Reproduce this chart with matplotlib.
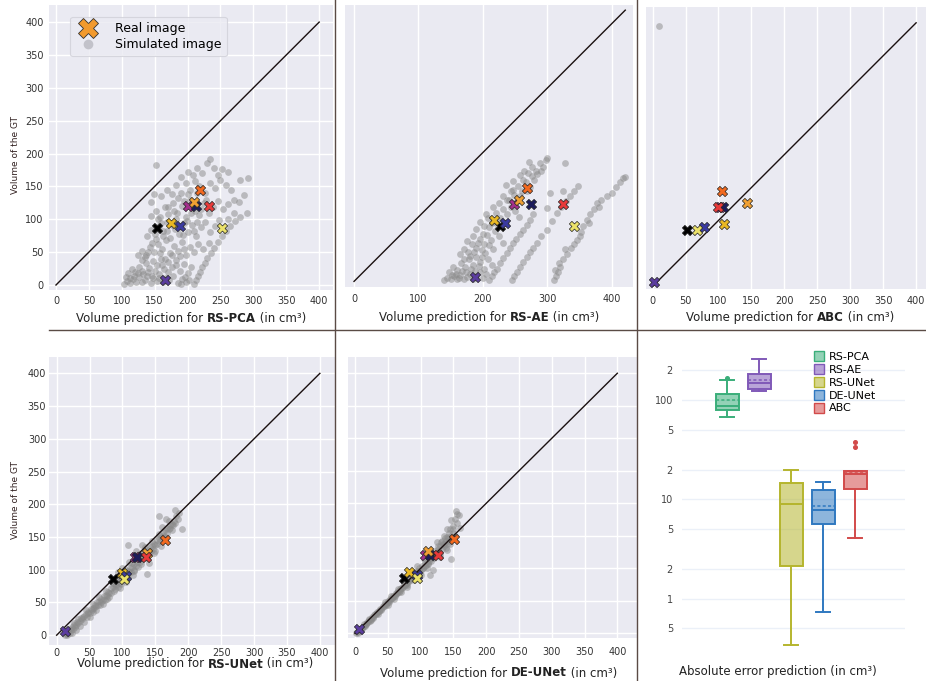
import matplotlib
matplotlib.use("Agg")
import matplotlib.pyplot as plt
from matplotlib.lines import Line2D
from matplotlib.offsetbox import TextArea, HPacker, AnchoredOffsetbox
import numpy as np

W, H = 926, 681

# ---------------------------------------------------------------- real images
real_colors = ['#000000', '#e9b824', '#3b3ba0', '#5b3d9e', '#a3308c',
               '#1c1c5c', '#f0a033', '#f2691f', '#e83a3a', '#ece26a']
gt_real = [86, 95, 90, 7, 120, 120, 126, 145, 120, 86]
pred_rs_pca = [153, 175, 189, 166, 201, 213, 209, 219, 232, 252]
pred_rs_ae = [226, 218, 235, 188, 248, 274, 256, 269, 324, 342]
pred_abc = [52, 108, 78, 2, 103, 107, 144, 106, 100, 68]
pred_rs_unet = [86, 100, 105, 13, 119, 122, 138, 165, 136, 102]
pred_de_unet = [75, 83, 94, 6, 106, 114, 111, 151, 127, 94]

# ---------------------------------------------------------------- simulated images (pred, gt)
sim_rs_pca = [
    (103, 2), (108, 6), (112, 3), (117, 9), (121, 4), (126, 12), (130, 5), (135, 8), (139, 14), (144, 3),
    (148, 10), (153, 6), (157, 16), (162, 4), (167, 11), (172, 7), (178, 13), (185, 3), (192, 9), (198, 5),
    (210, 2), (213, 8), (216, 14), (219, 20), (222, 27), (226, 34), (230, 41), (235, 49), (240, 57), (246, 65),
    (252, 74), (258, 82), (265, 90), (272, 97), (280, 103), (290, 109), (270, 110), (262, 100),
    (110, 18), (115, 24), (120, 20), (126, 28), (131, 22), (137, 33), (142, 26), (148, 37), (153, 30), (159, 40),
    (164, 24), (170, 35), (176, 28), (182, 38), (188, 22), (194, 32), (200, 18), (205, 28),
    (125, 45), (131, 52), (137, 46), (143, 58), (149, 50), (155, 63), (161, 55), (167, 68), (173, 48), (179, 60),
    (185, 52), (191, 66), (197, 45), (203, 58), (210, 50), (216, 62), (224, 55), (232, 64),
    (138, 75), (144, 83), (150, 78), (156, 90), (162, 82), (168, 96), (174, 72), (181, 85), (187, 78), (194, 94),
    (200, 80), (207, 92), (213, 74), (220, 88), (227, 96), (234, 80), (241, 90), (248, 99),
    (145, 105), (152, 112), (158, 104), (165, 118), (171, 108), (178, 125), (184, 110), (191, 120), (197, 103),
    (204, 130), (211, 112), (218, 106), (225, 125), (232, 110), (239, 118), (246, 128), (254, 115), (262, 124),
    (270, 130), (278, 126), (286, 137),
    (149, 139), (145, 127), (160, 135), (168, 145), (176, 138), (183, 152), (190, 140), (197, 155), (204, 145),
    (211, 158), (218, 150), (226, 140), (234, 155), (242, 148), (250, 160), (258, 152), (266, 145), (279, 159),
    (292, 163),
    (152, 182), (190, 165), (200, 172), (208, 168), (215, 178), (222, 170), (229, 185), (234, 192), (240, 178),
    (246, 168), (252, 176), (261, 172),
    (106, 12), (113, 10), (119, 14), (124, 18), (133, 16), (140, 20), (146, 14), (151, 22), (156, 10), (161, 30),
    (166, 40), (171, 20), (177, 45), (183, 30), (189, 44), (195, 55), (130, 38), (135, 42), (140, 50), (146, 64),
    (152, 70), (158, 48), (163, 74), (169, 82), (176, 92), (182, 100), (188, 88), (193, 76), (199, 98),
    (205, 110), (210, 82), (215, 96), (160, 95), (155, 100), (170, 118), (186, 132), (180, 112), (195, 128),
    (200, 138), (208, 122), (214, 140), (221, 116), (228, 130), (190, 2), (196, 12), (202, 8),
]
sim_rs_ae = [
    (140, 2), (145, 5), (150, 3), (155, 8), (160, 4), (165, 10), (170, 3), (175, 7), (180, 12), (185, 4),
    (190, 9), (195, 14), (200, 5), (205, 11),
    (148, 15), (154, 22), (160, 18), (166, 28), (172, 22), (178, 34), (184, 26), (190, 38), (196, 30), (202, 20),
    (208, 34), (214, 26),
    (165, 42), (171, 50), (177, 46), (183, 58), (189, 52), (195, 66), (201, 58), (207, 72), (213, 64), (219, 78),
    (225, 70), (231, 60), (175, 62), (185, 70),
    (190, 82), (196, 92), (202, 86), (208, 98), (214, 90), (220, 106), (226, 98), (232, 112), (238, 104),
    (244, 116), (250, 110), (256, 100), (205, 105), (215, 115),
    (225, 122), (231, 132), (237, 126), (243, 140), (249, 134), (255, 148), (261, 140), (267, 154), (273, 146),
    (279, 158), (236, 150), (246, 156),
    (258, 165), (264, 172), (270, 168), (276, 178), (282, 172), (288, 184), (294, 178), (298, 188), (300, 192),
    (272, 185),
    (210, 2), (214, 8), (218, 14), (222, 20), (227, 28), (232, 36), (237, 44), (242, 52), (247, 60), (252, 66),
    (257, 74), (263, 80), (268, 88), (273, 96), (278, 104), (299, 114), (304, 137), (325, 140), (328, 184),
    (245, 2), (249, 8), (253, 14), (258, 22), (263, 30), (268, 38), (273, 46), (278, 52), (284, 60), (290, 70),
    (299, 80), (307, 94), (315, 106), (322, 115), (329, 125), (335, 132), (341, 140), (348, 148),
    (310, 2), (313, 8), (316, 14), (320, 22), (325, 34), (330, 42), (336, 52), (341, 58), (346, 65), (352, 76),
    (356, 86), (361, 96), (366, 104), (372, 112), (377, 122), (384, 126), (392, 132), (400, 137), (406, 146),
    (413, 155), (418, 160), (421, 162), (312, 18), (318, 28), (328, 50), (350, 70), (365, 90), (380, 116),
    (152, 10), (158, 12), (163, 6), (168, 16), (174, 14), (182, 20), (188, 16), (194, 24), (199, 38), (186, 46),
    (192, 60), (198, 48), (204, 44), (210, 56), (216, 50), (180, 40), (170, 34), (200, 74), (210, 84), (218, 92),
    (224, 84), (230, 94), (236, 90), (240, 126), (246, 142), (252, 124), (258, 132), (262, 158), (268, 140),
    (276, 164), (284, 166), (290, 172),
]
sim_abc = [(9, 395)]
sim_rs_unet = [
    (12, 0), (15, 2), (18, 4), (20, 3), (22, 8), (25, 10), (28, 12), (30, 15), (33, 18), (35, 22), (38, 24),
    (40, 28), (20, 10), (26, 16), (32, 24), (16, 0), (24, 4), (30, 8), (36, 14), (42, 20),
    (44, 32), (46, 28), (48, 36), (50, 34), (52, 40), (55, 42), (58, 46), (60, 44), (62, 50), (65, 52), (68, 56),
    (70, 54), (72, 60), (75, 62), (78, 66), (80, 64), (45, 38), (55, 48), (65, 58), (75, 68), (50, 28), (60, 38),
    (70, 48), (80, 58), (56, 36), (66, 46), (76, 56),
    (82, 72), (85, 74), (88, 78), (90, 76), (92, 82), (95, 84), (98, 88), (100, 86), (102, 92), (105, 94),
    (108, 98), (110, 96), (112, 102), (115, 104), (118, 108), (120, 106), (85, 80), (95, 90), (105, 100),
    (115, 110), (88, 70), (98, 78), (108, 88), (118, 98), (94, 96), (100, 102), (110, 112), (96, 72), (106, 82),
    (116, 92),
    (122, 112), (125, 116), (128, 120), (130, 118), (132, 124), (135, 128), (138, 130), (140, 126), (142, 134),
    (145, 136), (148, 140), (150, 138), (152, 146), (155, 148), (158, 152), (160, 150), (125, 124), (135, 134),
    (145, 144), (155, 154), (128, 108), (138, 118), (148, 126), (158, 136), (109, 138), (137, 94), (120, 128),
    (130, 138), (140, 110), (150, 128),
    (162, 158), (165, 160), (168, 164), (170, 162), (172, 168), (175, 170), (178, 174), (180, 172), (156, 182),
    (166, 177), (180, 191), (190, 162), (165, 150), (175, 160), (185, 178), (170, 175), (160, 165),
    (14, 4), (18, 8), (23, 12), (27, 18), (31, 20), (37, 26), (42, 30), (47, 34), (53, 38), (57, 42), (63, 46),
    (67, 50), (73, 54), (77, 60), (83, 64), (87, 68), (93, 74), (97, 80), (103, 84), (107, 90), (113, 96),
    (117, 100), (123, 104), (127, 112), (133, 118), (137, 122), (143, 128), (147, 132), (153, 140), (157, 144),
    (163, 152), (167, 156), (173, 164), (177, 168), (182, 182), (186, 186),
]
sim_de_unet = [
    (2, 0), (4, 3), (6, 5), (8, 6), (10, 9), (12, 10), (14, 14), (16, 15), (18, 17), (20, 18), (22, 22),
    (24, 22), (26, 25), (28, 26), (30, 30), (32, 30), (34, 33), (36, 34), (38, 37), (40, 38), (5, 1), (15, 11),
    (25, 20), (35, 30),
    (42, 42), (44, 42), (46, 45), (48, 46), (50, 50), (52, 49), (54, 53), (56, 54), (58, 58), (60, 57), (62, 62),
    (64, 62), (66, 65), (68, 66), (70, 70), (72, 70), (74, 74), (76, 75), (78, 78), (80, 78), (45, 48), (55, 58),
    (65, 68), (75, 79), (50, 44), (60, 53), (70, 63), (80, 72),
    (82, 84), (84, 82), (86, 88), (88, 86), (90, 92), (92, 90), (94, 96), (96, 94), (98, 100), (100, 97),
    (102, 104), (104, 101), (106, 108), (108, 105), (110, 112), (112, 108), (114, 116), (116, 112), (118, 120),
    (120, 116), (85, 92), (95, 104), (105, 114), (115, 124), (90, 82), (100, 90), (110, 100), (114, 90),
    (119, 97), (108, 122),
    (122, 126), (124, 122), (126, 130), (128, 126), (130, 134), (132, 130), (134, 138), (136, 134), (138, 142),
    (140, 138), (142, 146), (144, 142), (146, 150), (148, 146), (150, 154), (152, 150), (135, 138), (147, 115),
    (125, 140), (135, 150), (145, 160), (155, 170), (130, 118), (140, 128), (147, 174), (154, 188), (158, 182),
    (150, 165), (160, 162), (140, 160),
    (3, 2), (7, 4), (11, 8), (13, 12), (17, 14), (21, 20), (23, 19), (27, 23), (29, 28), (33, 31), (37, 35),
    (39, 36), (43, 40), (47, 44), (51, 48), (53, 51), (57, 55), (61, 58), (63, 60), (67, 64), (69, 68), (73, 71),
    (77, 76), (79, 75), (83, 80), (87, 84), (89, 90), (93, 88), (97, 96), (99, 93), (103, 100), (107, 104),
    (111, 106), (113, 112), (117, 116), (121, 120), (127, 134), (133, 142), (137, 146), (143, 154), (149, 160),
    (153, 176), (156, 184), (141, 148), (131, 140), (129, 122), (139, 132), (145, 138),
]

# ---------------------------------------------------------------- absolute error boxes
box_names = ['RS-PCA', 'RS-AE', 'RS-UNet', 'DE-UNet', 'ABC']
box_colors = ['#3aae7a', '#8059b8', '#b5b52e', '#2f78c0', '#d24a4a']
box_q1 = [79, 129, 2.15, 5.6, 12.6]
box_med = [87, 148, 8.9, 7.9, 17.9]
box_q3 = [115, 183, 14.5, 12.3, 19.2]
box_mean = [101, 159, 9.0, 8.5, 18.4]
box_lo = [67, 123, 0.34, 0.74, 4.1]
box_hi = [159, 259, 19.6, 14.8, 19.2]
box_fliers = [[167], [], [], [], [37.6, 33.5]]

# ---------------------------------------------------------------- style
plt.rcParams['font.family'] = 'DejaVu Sans'
fig = plt.figure(figsize=(W / 100, H / 100), dpi=100)
fig.patch.set_facecolor('white')


def px_axes(l, t, r, b):
    return fig.add_axes([l / W, 1 - b / H, (r - l) / W, (b - t) / H])


def scatter_panel(rect, xlim, ylim, sim, preds, xticks, ygrid, ylabels, xpad, diag_end=400):
    ax = px_axes(*rect)
    ax.set_facecolor('#eaeaf2')
    for s in ax.spines.values():
        s.set_visible(False)
    ax.set_axisbelow(True)
    ax.set_xticks(xticks)
    ax.set_yticks(np.arange(0, 401, 50))
    ax.grid(True, axis='x', color='white', lw=1)
    if ygrid:
        ax.grid(True, axis='y', color='white', lw=1)
    ax.tick_params(length=0, labelsize=7, labelcolor='#333333', pad=xpad)
    if not ylabels:
        ax.tick_params(axis='y', labelleft=False)
    sx = [p[0] for p in sim]
    sy = [p[1] for p in sim]
    ax.scatter(sx, sy, s=24, color='#8a8a8a', alpha=0.5, lw=0)
    ax.plot([0, diag_end], [0, diag_end], color='#1a1010', lw=1)
    for x, y, c in zip(preds, gt_real, real_colors):
        ax.scatter([x], [y], marker='X', s=55, color=c, edgecolor='#222222', lw=0.5, zorder=3)
    ax.set_xlim(*xlim)
    ax.set_ylim(*ylim)
    return ax


def fig_label(xp, yp, parts, size=8.5):
    boxes = [TextArea(t, textprops=dict(size=size, weight=w, color='#222222')) for t, w in parts]
    pack = HPacker(children=boxes, align='baseline', pad=0, sep=0)
    ab = AnchoredOffsetbox(loc='center', child=pack, pad=0, borderpad=0, frameon=False,
                           bbox_to_anchor=(xp / W, 1 - yp / H), bbox_transform=fig.transFigure)
    fig.add_artist(ab)


ticks50 = np.arange(0, 401, 50)
ax1 = scatter_panel((49, 5, 333, 290), (-10.6, 421), (-7.6, 426), sim_rs_pca, pred_rs_pca, ticks50, True, True, 4)
ax2 = scatter_panel((345, 5, 633, 287), (-14, 433), (-8.7, 429), sim_rs_ae, pred_rs_ae, np.arange(0, 401, 100),
                    False, False, 5, diag_end=421)
ax3 = scatter_panel((646, 7, 926, 289), (-10, 415), (-4, 424), sim_abc, pred_abc, ticks50, False, False, 5)
ax4 = scatter_panel((49, 357, 335, 645), (-11.6, 423), (-15, 425), sim_rs_unet, pred_rs_unet, ticks50, True,
                    True, 2)
ax5 = scatter_panel((348, 357, 637, 638), (-10.7, 430), (-7, 425), sim_de_unet, pred_de_unet, ticks50, True,
                    False, 6.5)

# legend of the first panel
handles = [Line2D([], [], marker='X', ls='', markersize=14, markerfacecolor='#f29a2e',
                  markeredgecolor='#333333', mew=0.6),
           Line2D([], [], marker='o', ls='', markersize=7, markerfacecolor='#b8b8c0',
                  markeredgecolor='none', alpha=0.8)]
leg = ax1.legend(handles, ['Real image', 'Simulated image'], loc='upper left', bbox_to_anchor=(0.074, 0.958),
                 borderaxespad=0, fontsize=9, frameon=True, facecolor='#eaeaf2', edgecolor='#d0d0d8',
                 handletextpad=1.2, labelspacing=0.25)
leg.get_frame().set_linewidth(0.8)

fig.text(16 / W, 1 - 155 / H, 'Volume of the GT', rotation=90, ha='center', va='center', size=6.5, color='#332222')
fig.text(16 / W, 1 - 500 / H, 'Volume of the GT', rotation=90, ha='center', va='center', size=6.5, color='#332222')

fig_label(191, 318, [('Volume prediction for ', 'normal'), ('RS-PCA', 'bold'), (' (in cm³)', 'normal')])
fig_label(489, 317, [('Volume prediction for ', 'normal'), ('RS-AE', 'bold'), (' (in cm³)', 'normal')])
fig_label(790, 317, [('Volume prediction for ', 'normal'), ('ABC', 'bold'), (' (in cm³)', 'normal')])
fig_label(195, 664, [('Volume prediction for ', 'normal'), ('RS-UNet', 'bold'), (' (in cm³)', 'normal')])
fig_label(499, 673, [('Volume prediction for ', 'normal'), ('DE-UNet', 'bold'), (' (in cm³)', 'normal')])

# ---------------------------------------------------------------- box panel
ax6 = px_axes(682, 340, 905, 655)
ax6.set_facecolor('white')
for s in ax6.spines.values():
    s.set_visible(False)
ax6.set_yscale('log')
stats = []
for i, name in enumerate(box_names):
    stats.append(dict(label=name, q1=box_q1[i], med=box_med[i], q3=box_q3[i], mean=box_mean[i],
                      whislo=box_lo[i], whishi=box_hi[i], fliers=box_fliers[i]))
pos = np.arange(len(box_names))
bp = ax6.bxp(stats, positions=pos, widths=0.72, capwidths=0.46, patch_artist=True, showmeans=True,
             meanline=True, manage_ticks=False)
for i, c in enumerate(box_colors):
    bp['boxes'][i].set(facecolor=matplotlib.colors.to_rgba(c, 0.55), edgecolor=c, lw=1.4)
    bp['medians'][i].set(color=c, lw=1.4)
    bp['means'][i].set(color=c, lw=1.1, ls=(0, (2, 1.5)))
    for k in (2 * i, 2 * i + 1):
        bp['whiskers'][k].set(color=c, lw=1.4)
        bp['caps'][k].set(color=c, lw=1.4)
    bp['fliers'][i].set(marker='o', markersize=2.6, markerfacecolor=c, markeredgecolor=c)
ax6.set_xlim(-1.41, 5.56)
ax6.set_ylim(0.27, 404)
yt = [0.5, 1, 2, 5, 10, 20, 50, 100, 200]
ax6.set_yticks(yt)
ax6.set_yticklabels(['5', '1', '2', '5', '10', '2', '5', '100', '2'])
ax6.yaxis.set_minor_locator(matplotlib.ticker.NullLocator())
ax6.set_xticks([])
ax6.grid(True, axis='y', color='#ebf0f8', lw=1)
ax6.set_axisbelow(True)
ax6.tick_params(length=0, labelsize=7, labelcolor='#444444', pad=6.5)
bh = [Line2D([], [], marker='s', ls='', markersize=7, markerfacecolor=matplotlib.colors.to_rgba(c, 0.55),
             markeredgecolor=c, mew=1.0) for c in box_colors]
ax6.legend(bh, box_names, loc='upper left', bbox_to_anchor=(0.565, 0.975), borderaxespad=0, fontsize=8,
           frameon=False, handletextpad=0.3, labelspacing=0.25, handlelength=1.2)
fig_label(778, 672, [('Absolute error prediction (in cm³)', 'normal')], size=8.5)

# ---------------------------------------------------------------- separator lines
sep_color = '#5a4b45'
fig.add_artist(Line2D([335 / W, 335 / W], [0, 1], transform=fig.transFigure, color=sep_color, lw=1))
fig.add_artist(Line2D([637 / W, 637 / W], [0, 1], transform=fig.transFigure, color=sep_color, lw=1))
fig.add_artist(Line2D([49 / W, 1], [1 - 330 / H, 1 - 330 / H], transform=fig.transFigure, color=sep_color, lw=1))

plt.savefig('out.png', dpi=100)
